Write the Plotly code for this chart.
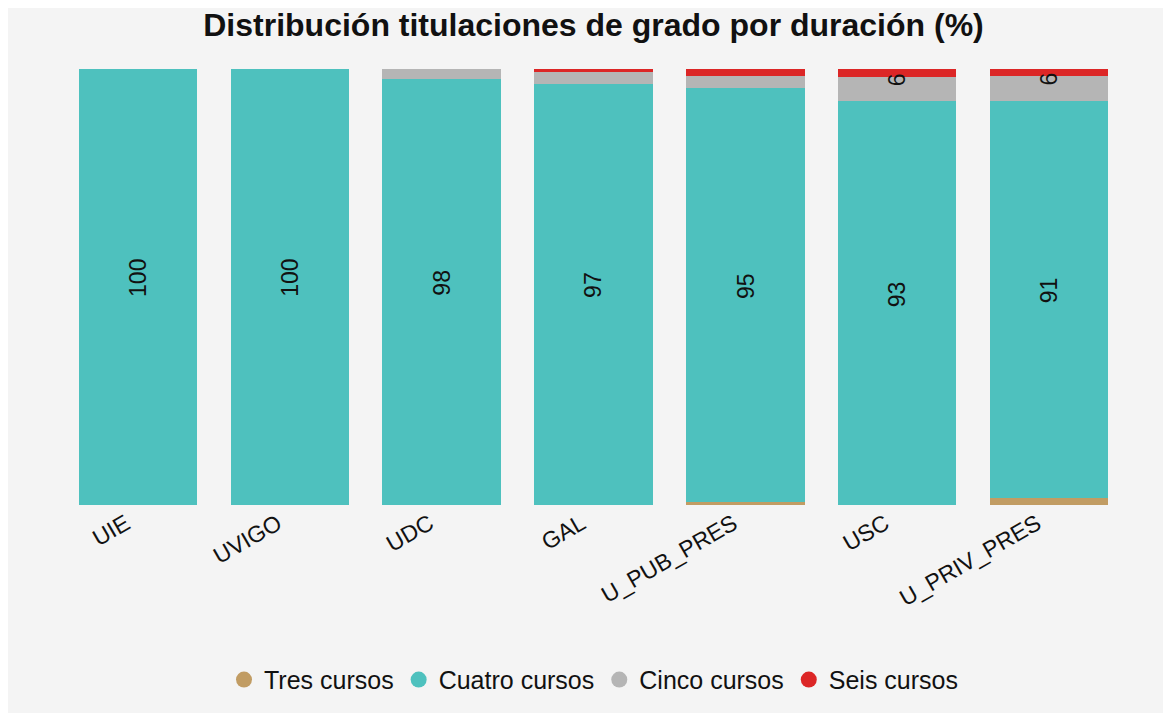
import plotly.graph_objects as go

categories = ["UIE", "UVIGO", "UDC", "GAL", "U_PUB_PRES", "USC", "U_PRIV_PRES"]
tres_cursos = [0, 0, 0, 0, 0.8, 0, 1.7]
cuatro_cursos = [100, 100, 97.7, 96.6, 94.9, 92.6, 91.0]
cinco_cursos = [0, 0, 2.3, 2.7, 2.7, 5.6, 5.7]
seis_cursos = [0, 0, 0, 0.7, 1.6, 1.8, 1.6]

series = [
    ("Tres cursos", tres_cursos, "#C19C63"),
    ("Cuatro cursos", cuatro_cursos, "#4EC1BE"),
    ("Cinco cursos", cinco_cursos, "#B5B5B5"),
    ("Seis cursos", seis_cursos, "#DC2626"),
]

FONT = "Liberation Sans, Arial, sans-serif"
TXT = "#111111"
MIN_LABEL_VALUE = 4.5  # segments smaller than this are too thin for a label

fig = go.Figure()
base = [0.0] * len(categories)
annotations = []
for name, vals, color in series:
    fig.add_trace(go.Bar(
        x=categories, y=vals, name=name, marker=dict(color=color, line=dict(width=0)),
        showlegend=False, hoverinfo="x+y+name",
    ))
    for i, (cat, v) in enumerate(zip(categories, vals)):
        if v >= MIN_LABEL_VALUE:
            annotations.append(dict(
                x=cat, y=base[i] + v / 2, xref="x", yref="y",
                text=f"{v:.0f}", textangle=-90, showarrow=False, yshift=9,
                font=dict(size=23, family=FONT, color=TXT),
            ))
        base[i] += v
for name, vals, color in series:
    fig.add_trace(go.Scatter(
        x=[None], y=[None], mode="markers", name=name,
        marker=dict(color=color, size=20, symbol="circle"),
        showlegend=True,
    ))

fig.update_layout(
    width=1171, height=713,
    template="none",
    barmode="stack", bargap=0.22,
    paper_bgcolor="#F4F4F4", plot_bgcolor="#F4F4F4",
    font=dict(family=FONT, color=TXT),
    margin=dict(l=54, r=54, t=61, b=216),
    title=dict(text="<b>Distribución titulaciones de grado por duración (%)</b>",
               x=0.5, xref="paper", y=0.977, yref="container", yanchor="middle",
               font=dict(size=32, family=FONT, color=TXT)),
    annotations=annotations,
    legend=dict(orientation="h", traceorder="normal", x=0.5, xanchor="center",
                y=-0.401, yanchor="middle",
                font=dict(size=25, family=FONT, color=TXT), bgcolor="rgba(0,0,0,0)"),
    xaxis=dict(showgrid=False, zeroline=False, showline=False, ticks="",
               tickangle=-30, tickfont=dict(size=23, family=FONT, color=TXT),
               ticklabelshift=-12, automargin=False),
    yaxis=dict(range=[0, 100], showgrid=False, zeroline=False, showline=False,
               showticklabels=False, ticks="", automargin=False),
)

fig.write_html("out.html")
